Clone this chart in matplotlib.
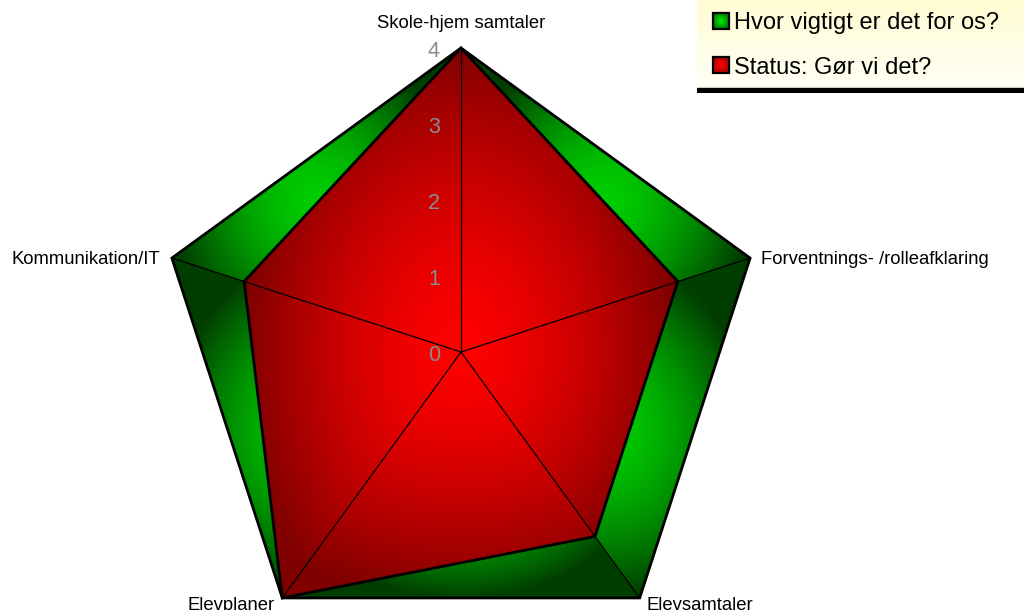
import numpy as np
import matplotlib
matplotlib.use("Agg")
import matplotlib.pyplot as plt
from matplotlib.path import Path
from matplotlib.patches import Polygon, Rectangle

# ---------------- data ----------------
categories = ["Skole-hjem samtaler", "Forventnings- /rolleafklaring",
              "Elevsamtaler", "Elevplaner", "Kommunikation/IT"]
series_names = ["Hvor vigtigt er det for os?", "Status: Gør vi det?"]
importance = [4, 4, 4, 4, 4]
status = [4, 3, 3, 4, 3]
tick_values = [0, 1, 2, 3, 4]
tick_labels = ["0", "1", "2", "3", "4"]
scale_max = 4

plt.rcParams["font.family"] = ["Liberation Sans", "DejaVu Sans"]

W_PX, H_PX = 1024, 610
UNIT = 76.0            # pixels per value unit
CX, CY = 461, 352      # centre of the radar (pixels)

fig = plt.figure(figsize=(W_PX / 100, H_PX / 100), dpi=100)
ax = fig.add_axes([0, 0, 1, 1])
ax.axis("off")
x0, x1 = -CX / UNIT, (W_PX - CX) / UNIT
y0, y1 = -(H_PX - CY) / UNIT, CY / UNIT

n = len(categories)
step = 360.0 / n
angles = np.deg2rad(90 - step * np.arange(n))


def to_xy(vals):
    vals = np.asarray(vals, float)
    return np.column_stack([vals * np.cos(angles), vals * np.sin(angles)])


xs = x0 + (np.arange(W_PX) + 0.5) / UNIT
ys = y1 - (np.arange(H_PX) + 0.5) / UNIT
X, Y = np.meshgrid(xs, ys)
pts = np.column_stack([X.ravel(), Y.ravel()])
phi = np.mod(90 - np.degrees(np.arctan2(pts[:, 1], pts[:, 0])), 360)
sector = np.minimum((phi // step).astype(int), n - 1)


def shade(V, mode):
    rgba = np.zeros((pts.shape[0], 4))
    poly_mask = Path(np.vstack([V, V[:1]]), closed=True).contains_points(pts)
    for i in range(n):
        tri = np.array([[0, 0], V[i], V[(i + 1) % n]])
        inside = poly_mask & (sector == i)
        mins, maxs = tri.min(0), tri.max(0)
        p = pts[inside]
        if mode == "green":
            c = (mins + maxs) / 2
            h = np.maximum((maxs - mins) / 2, 1e-6)
            d = np.sqrt(((p[:, 0] - c[0]) / h[0]) ** 2 + ((p[:, 1] - c[1]) / h[1]) ** 2)
            t = np.clip(d, 0, 1) ** 1.6
            g = (205 + (62 - 205) * t) / 255
            col = np.column_stack([np.zeros_like(g), g, np.zeros_like(g), np.ones_like(g)])
        else:
            w = np.maximum(maxs - mins, 1e-6)
            d = np.sqrt((p[:, 0] / w[0]) ** 2 + (p[:, 1] / w[1]) ** 2)
            t = np.clip(d, 0, 1) ** 1.5
            r = (255 + (128 - 255) * t) / 255
            col = np.column_stack([r, np.zeros_like(r), np.zeros_like(r), np.ones_like(r)])
        rgba[inside] = col
    return rgba.reshape(H_PX, W_PX, 4)


Vg = to_xy(importance)
Vr = to_xy(status)

ax.imshow(shade(Vg, "green"), extent=(x0, x1, y0, y1), origin="upper",
          interpolation="nearest", aspect="auto", zorder=1)
ax.add_patch(Polygon(Vg, closed=True, fill=False, ec="black", lw=2.0,
                     joinstyle="miter", zorder=2))
ax.imshow(shade(Vr, "red"), extent=(x0, x1, y0, y1), origin="upper",
          interpolation="nearest", aspect="auto", zorder=3)
ax.add_patch(Polygon(Vr, closed=True, fill=False, ec="black", lw=2.0,
                     joinstyle="miter", zorder=4))

# spokes
Vmax = to_xy([scale_max] * n)
for (vx, vy) in Vmax:
    ax.plot([0, vx], [0, vy], color="black", lw=0.9, zorder=5)

ax.set_xlim(x0, x1)
ax.set_ylim(y0, y1)

# scale labels along first spoke
PT = 0.72
for v, lab in zip(tick_values, tick_labels):
    ax.annotate(lab, xy=(v * np.cos(angles[0]), v * np.sin(angles[0])),
                xytext=(-21 * PT, -9 * PT), textcoords="offset points",
                ha="right", va="baseline", fontsize=15.5, color="#8c8c8c", zorder=6)

# category labels
label_style = [
    dict(ha="center", off=(0, 19.5)),
    dict(ha="left", off=(11, -5.6)),
    dict(ha="left", off=(7, -12.5)),
    dict(ha="right", off=(-8, -12.5)),
    dict(ha="right", off=(-12, -5.6)),
]
for (vx, vy), cat, st in zip(Vmax, categories, label_style):
    ax.annotate(cat, xy=(vx, vy), xytext=(st["off"][0] * PT, st["off"][1] * PT),
                textcoords="offset points", ha=st["ha"], va="baseline",
                fontsize=13.3, color="black", zorder=6, annotation_clip=False)

# ---------------- legend ----------------
LW, LH = 327, 93
lax = fig.add_axes([697 / W_PX, 1 - LH / H_PX, LW / W_PX, LH / H_PX])
lax.set_xlim(0, LW)
lax.set_ylim(LH, 0)
lax.axis("off")
tv = np.linspace(0, 1, 88)[:, None]
top = np.array([255, 252, 212]) / 255
bot = np.array([255, 255, 244]) / 255
bg = top + (bot - top) * tv[:, :, None] * np.ones((1, LW, 1))
lax.imshow(bg, extent=(0, LW, 88, 0), aspect="auto", interpolation="bilinear", zorder=0)
lax.add_patch(Rectangle((0, 88), LW, 5, color="black", zorder=1))

sq = np.linspace(-1, 1, 16)
SX, SY = np.meshgrid(sq, sq)
sd = np.clip(np.sqrt(SX ** 2 + SY ** 2) / 1.3, 0, 1)
marker_cols = [((0, 235, 0), (0, 110, 0)), ((255, 0, 0), (160, 0, 0))]
for k, (name, (cin, cout)) in enumerate(zip(series_names, marker_cols)):
    ytop = 13 + 44 * k
    cin = np.array(cin) / 255
    cout = np.array(cout) / 255
    img = cin + (cout - cin) * sd[:, :, None]
    lax.imshow(img, extent=(16, 32, ytop + 16, ytop), aspect="auto",
               interpolation="bilinear", zorder=2)
    lax.add_patch(Rectangle((16, ytop), 16, 16, fill=False, ec="black", lw=1.6, zorder=3))
    lax.text(37.5, ytop + 16.5, name, ha="left", va="baseline", fontsize=17,
             color="black", zorder=3)
lax.set_xlim(0, LW)
lax.set_ylim(LH, 0)

fig.savefig("out.png", dpi=100)
